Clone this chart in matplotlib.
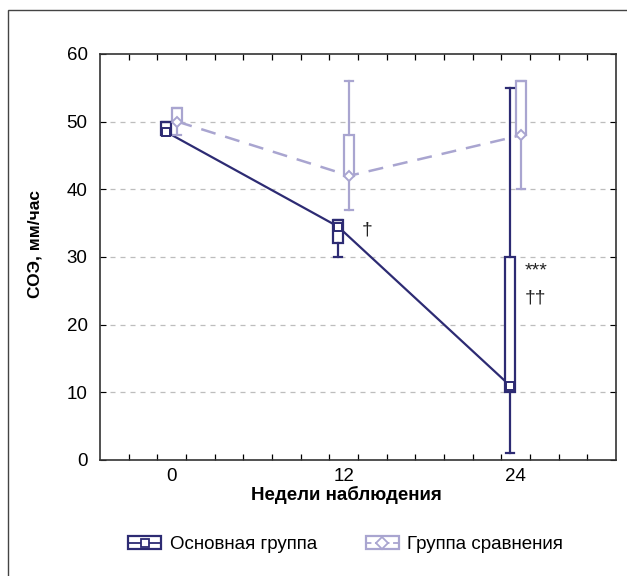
import matplotlib.pyplot as plt
from matplotlib.patches import Rectangle
from matplotlib.lines import Line2D
from matplotlib.legend_handler import HandlerBase
from matplotlib.ticker import FixedLocator

plt.rcParams['font.family'] = ['Liberation Sans', 'DejaVu Sans']

# data
weeks = [0, 12, 24]
week_labels = ['0', '12', '24']

main_label = 'Основная группа'
main_med = [48.5, 34.5, 11]
main_q1 = [48, 32, 10]
main_q3 = [50, 35.5, 30]
main_lo = [48, 30, 1]
main_hi = [50, 35.5, 55]

cmp_label = 'Группа сравнения'
cmp_med = [50, 42, 48]
cmp_q1 = [50, 42, 48]
cmp_q3 = [52, 48, 56]
cmp_lo = [48, 37, 40]
cmp_hi = [52, 56, 56]

notes = ['†', '***', '††']
note_x = [13.6, 25.4, 25.4]
note_y = [34, 28, 24]

navy = '#2d2b73'
lilac = '#a9a5d0'
offset = 0.4
box_w = 0.7


class BoxHandler(HandlerBase):
    def __init__(self, color, marker, ls):
        super().__init__()
        self.color, self.marker, self.ls = color, marker, ls

    def create_artists(self, legend, orig_handle, xdescent, ydescent,
                       width, height, fontsize, trans):
        x0, y0 = -xdescent, -ydescent
        h = height * 1.0
        yb = y0 + (height - h) / 2
        rect = Rectangle((x0, yb), width, h, fill=False, edgecolor=self.color,
                         lw=1.6, transform=trans)
        mid = Line2D([x0, x0 + width], [y0 + height / 2] * 2, color=self.color,
                     lw=1.3, ls=self.ls, transform=trans)
        mk = Line2D([x0 + width / 2], [y0 + height / 2], marker=self.marker,
                    ms=5.5 if self.marker == 's' else 6, mfc='white',
                    mec=self.color, mew=1.3, ls='none', transform=trans)
        return [rect, mid, mk]


def stats(med, q1, q3, lo, hi):
    return [dict(med=m, q1=a, q3=b, whislo=c, whishi=d)
            for m, a, b, c, d in zip(med, q1, q3, lo, hi)]


fig = plt.figure(figsize=(6.27, 5.76), dpi=100)
ax = fig.add_axes([0.1595, 0.2014, 0.8230, 0.7049])

# outer frame
fig.add_artist(Rectangle((8 / 627, -0.1), 1.2, 1.1 - 10 / 576, fill=False,
                         edgecolor='#444444', lw=1.0, transform=fig.transFigure))

for y in [10, 20, 30, 40, 50]:
    ax.axhline(y, color='#bdbdbd', lw=0.9, ls=(0, (4, 4)), zorder=0)

pos_main = [w - offset for w in weeks]
pos_cmp = [w + offset for w in weeks]

ax.plot(pos_cmp, cmp_med, color=lilac, lw=1.8, ls=(0, (6, 4)), zorder=2)
ax.plot(pos_main, main_med, color=navy, lw=1.6, zorder=2)

for st, pos, col in [(stats(cmp_med, cmp_q1, cmp_q3, cmp_lo, cmp_hi), pos_cmp, lilac),
                     (stats(main_med, main_q1, main_q3, main_lo, main_hi), pos_main, navy)]:
    ax.bxp(st, positions=pos, widths=box_w, showfliers=False, patch_artist=True,
           boxprops=dict(facecolor='white', edgecolor=col, lw=1.6),
           whiskerprops=dict(color=col, lw=1.6),
           capprops=dict(color=col, lw=1.6),
           medianprops=dict(lw=0), capwidths=box_w * 0.8,
           manage_ticks=False, zorder=3)

ax.plot(pos_cmp, cmp_med, ls='none', marker='D', ms=5, mfc='white', mec=lilac,
        mew=1.4, zorder=4)
ax.plot(pos_main, main_med, ls='none', marker='s', ms=5.5, mfc='white', mec=navy,
        mew=1.4, zorder=4)

for t, x, y in zip(notes, note_x, note_y):
    ax.text(x, y, t, fontsize=14, color='#222222', ha='center', va='center')

ax.set_xlim(-5, 31)
ax.set_ylim(0, 60)
ax.set_xticks(weeks)
ax.set_xticklabels(week_labels)
ax.xaxis.set_minor_locator(FixedLocator(list(range(-3, 31, 2))))
ax.set_yticks(range(0, 61, 10))
ax.tick_params(axis='x', which='major', length=0, labelsize=13.5, pad=6)
ax.tick_params(axis='x', which='minor', direction='in', length=4, top=True,
               width=0.9)
ax.tick_params(axis='y', direction='in', length=4, right=True, labelsize=13.5,
               pad=9)
for s in ax.spines.values():
    s.set_linewidth(1.2)
    s.set_color('#333333')

ax.set_xlabel('Недели наблюдения', fontsize=13.5, fontweight='bold')
ax.xaxis.set_label_coords(0.477, -0.064)
ax.set_ylabel('СОЭ, мм/час', fontsize=12.5, fontweight='bold')
ax.yaxis.set_label_coords(-0.112, 0.532)

h1 = Rectangle((0, 0), 1, 1)
h2 = Rectangle((0, 0), 1, 1)
fig.legend([h1, h2], [main_label, cmp_label], loc='center',
           bbox_to_anchor=(0.551, 0.054), ncol=2, frameon=False, fontsize=13.5,
           handlelength=1.8, handleheight=0.7, columnspacing=2.6,
           handletextpad=0.43,
           handler_map={h1: BoxHandler(navy, 's', '-'),
                        h2: BoxHandler(lilac, 'D', (0, (3, 2)))})

fig.savefig('out.png', dpi=100)
